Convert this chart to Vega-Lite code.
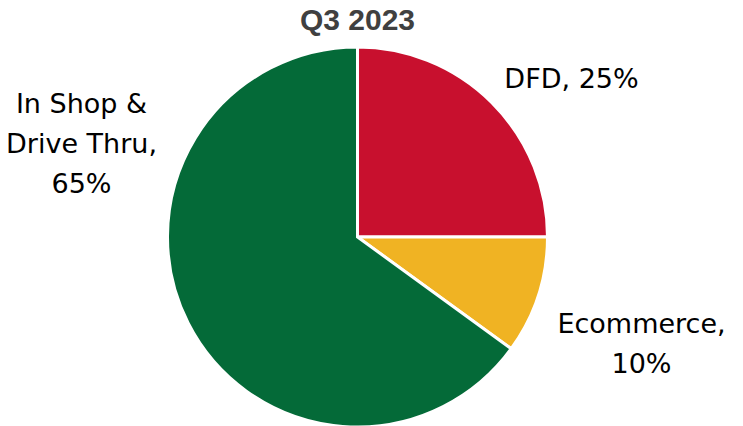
{
  "$schema": "https://vega.github.io/schema/vega-lite/v6.json",
  "width": 715,
  "height": 394,
  "autosize": "none",
  "padding": {"top": 40, "left": 0, "right": 28, "bottom": 0},
  "background": "white",
  "title": {
    "text": "Q3 2023",
    "font": "Liberation Sans",
    "fontSize": 30,
    "fontWeight": "bold",
    "color": "#404040",
    "anchor": "middle",
    "offset": 4
  },
  "data": {
    "values": [
      {"category": "DFD", "value": 25, "label": "DFD, 25%"},
      {"category": "Ecommerce", "value": 10, "label": "Ecommerce,\n10%"},
      {"category": "In Shop & Drive Thru", "value": 65, "label": "In Shop &\nDrive Thru,\n65%"}
    ]
  },
  "transform": [
    {"stack": "value", "groupby": [], "sort": [{"field": "category", "order": "ascending"}], "as": ["v0", "v1"]}
  ],
  "encoding": {
    "theta": {"field": "v0", "type": "quantitative", "scale": {"domain": [0, 100]}}
  },
  "layer": [
    {
      "mark": {"type": "arc", "outerRadius": 190, "stroke": "white", "strokeWidth": 3},
      "encoding": {
        "theta2": {"field": "v1"},
        "color": {
          "field": "category",
          "type": "nominal",
          "scale": {"domain": ["DFD", "Ecommerce", "In Shop & Drive Thru"], "range": ["#C8102E", "#F0B323", "#046A38"]},
          "legend": null
        }
      }
    },
    {
      "transform": [{"filter": "datum.category === 'DFD'"}],
      "mark": {"type": "text", "radius": 200, "dx": 214, "dy": 51, "align": "center", "baseline": "alphabetic", "font": "DejaVu Sans", "fontSize": 27, "lineBreak": "\n", "lineHeight": 40, "fill": "#000000"},
      "encoding": {"text": {"field": "label"}}
    },
    {
      "transform": [{"filter": "datum.category === 'Ecommerce'"}],
      "mark": {"type": "text", "radius": 200, "dx": 84, "dy": 96, "align": "center", "baseline": "alphabetic", "font": "DejaVu Sans", "fontSize": 27, "lineBreak": "\n", "lineHeight": 40, "fill": "#000000"},
      "encoding": {"text": {"field": "label"}}
    },
    {
      "transform": [{"filter": "datum.category === 'In Shop & Drive Thru'"}],
      "mark": {"type": "text", "radius": 200, "dx": -276, "dy": 76, "align": "center", "baseline": "alphabetic", "font": "DejaVu Sans", "fontSize": 27, "lineBreak": "\n", "lineHeight": 40, "fill": "#000000"},
      "encoding": {
        "theta": {"field": "v1", "type": "quantitative"},
        "text": {"field": "label"}
      }
    }
  ]
}
